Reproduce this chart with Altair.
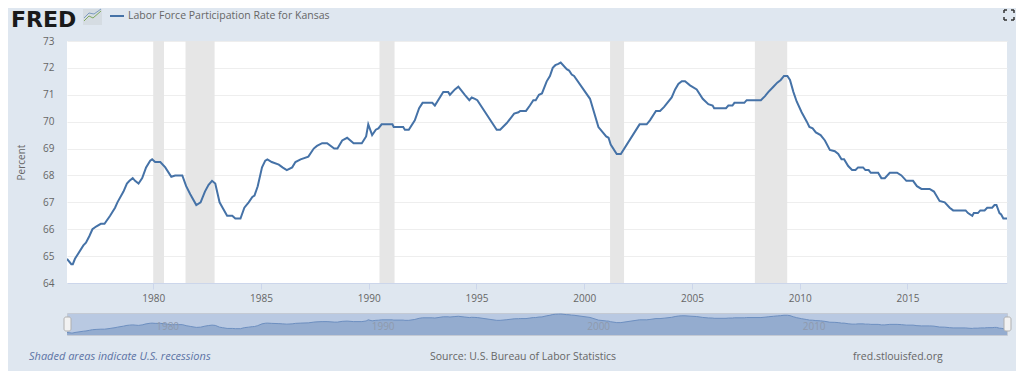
import altair as alt
import pandas as pd

years = [1976.0,1976.2,1976.27,1976.37,1976.76,1976.88,1977.04,1977.18,1977.35,1977.57,1977.74,1978.0,1978.23,1978.34,1978.62,1978.78,1978.9,1979.05,1979.16,1979.32,1979.49,1979.67,1979.86,1979.95,1980.09,1980.33,1980.56,1980.84,1981.02,1981.35,1981.53,1981.72,1982.0,1982.2,1982.4,1982.57,1982.73,1982.88,1983.08,1983.22,1983.43,1983.67,1983.81,1984.05,1984.23,1984.43,1984.6,1984.7,1984.85,1985.05,1985.2,1985.3,1985.5,1985.83,1986.0,1986.2,1986.45,1986.6,1986.84,1987.2,1987.45,1987.6,1987.84,1988.07,1988.4,1988.55,1988.77,1989.0,1989.3,1989.68,1989.88,1989.98,1990.16,1990.33,1990.45,1990.6,1991.1,1991.16,1991.6,1991.68,1991.86,1992.14,1992.34,1992.5,1992.95,1993.07,1993.46,1993.69,1993.77,1994.0,1994.16,1994.46,1994.67,1994.78,1994.93,1995.04,1995.94,1996.1,1996.41,1996.75,1996.95,1997.03,1997.3,1997.48,1997.64,1997.75,1997.9,1998.04,1998.26,1998.41,1998.54,1998.66,1998.8,1998.91,1999.19,1999.3,1999.42,1999.53,2000.27,2000.66,2001.02,2001.13,2001.23,2001.51,2001.7,2002.57,2002.9,2003.05,2003.33,2003.52,2003.71,2004.06,2004.22,2004.37,2004.53,2004.68,2004.91,2005.22,2005.5,2005.76,2005.96,2006.03,2006.58,2006.69,2006.88,2006.97,2007.43,2007.54,2008.2,2008.39,2008.54,2008.78,2008.96,2009.12,2009.27,2009.43,2009.55,2009.71,2009.86,2010.09,2010.33,2010.45,2010.6,2010.75,2010.97,2011.17,2011.4,2011.63,2011.79,2011.94,2012.06,2012.25,2012.43,2012.59,2012.71,2012.94,2013.05,2013.2,2013.3,2013.64,2013.79,2013.95,2014.18,2014.52,2014.72,2014.95,2015.26,2015.44,2015.65,2016.03,2016.23,2016.49,2016.73,2016.96,2017.12,2017.7,2017.81,2018.01,2018.08,2018.27,2018.38,2018.58,2018.7,2018.93,2019.04,2019.13,2019.27,2019.35,2019.45,2019.62]
rates = [64.9,64.7,64.7,64.9,65.4,65.5,65.75,66.0,66.1,66.2,66.2,66.5,66.8,67.0,67.4,67.7,67.8,67.9,67.8,67.7,67.9,68.3,68.55,68.6,68.5,68.5,68.3,67.95,68.0,68.0,67.6,67.3,66.9,67.0,67.4,67.65,67.8,67.7,67.0,66.8,66.5,66.5,66.4,66.4,66.8,67.0,67.2,67.25,67.6,68.3,68.55,68.6,68.5,68.4,68.3,68.2,68.3,68.5,68.6,68.7,69.0,69.1,69.2,69.2,69.0,69.0,69.3,69.4,69.2,69.2,69.45,69.9,69.5,69.7,69.75,69.9,69.9,69.8,69.8,69.7,69.7,70.05,70.5,70.7,70.7,70.6,71.1,71.1,71.0,71.2,71.3,71.0,70.8,70.9,70.85,70.8,69.7,69.7,69.95,70.3,70.35,70.4,70.4,70.6,70.8,70.8,71.0,71.05,71.5,71.7,72.0,72.1,72.15,72.2,71.95,71.9,71.75,71.7,70.85,69.8,69.45,69.4,69.15,68.8,68.8,69.9,69.9,70.05,70.4,70.4,70.55,70.9,71.2,71.4,71.5,71.5,71.35,71.2,70.85,70.65,70.6,70.5,70.5,70.6,70.6,70.7,70.7,70.8,70.8,70.95,71.1,71.3,71.45,71.55,71.7,71.7,71.55,71.1,70.75,70.35,70.0,69.8,69.75,69.6,69.5,69.3,68.95,68.9,68.8,68.6,68.6,68.35,68.2,68.2,68.3,68.3,68.2,68.2,68.1,68.1,67.9,67.9,68.1,68.1,68.0,67.8,67.8,67.6,67.5,67.5,67.4,67.05,67.0,66.8,66.7,66.7,66.6,66.5,66.6,66.6,66.7,66.7,66.8,66.8,66.9,66.9,66.6,66.55,66.4,66.4]
rec_start = [1980.0,1981.5,1990.5,2001.2,2007.92]
rec_end = [1980.5,1982.85,1991.2,2001.85,2009.42]
x_ticks = [1980,1985,1990,1995,2000,2005,2010,2015]
nav_ticks = [1980,1990,2000,2010]
y_ticks = list(range(64,74))

FONT = "Open Sans"
TXT = "#666666"
BLUE = "#4572a7"
PAGE = "#dfe7f0"

series = pd.DataFrame({"year": years, "rate": rates})
recs = pd.DataFrame({"s": rec_start, "e": rec_end})
XDOM = [1976.0, 2019.62]
xs = alt.Scale(domain=XDOM, nice=False, zero=False)

rec_layer = alt.Chart(recs).mark_rect(color="#e6e6e6").encode(
    x=alt.X("s:Q", scale=xs, title=None,
            axis=alt.Axis(values=x_ticks, format="d", grid=False, domainColor="#ccd6eb", tickColor="#ccd6eb",
                          tickSize=6, labelColor=TXT, labelFont=FONT, labelFontSize=10, labelPadding=4)),
    x2="e:Q")
line_layer = alt.Chart(series).mark_line(color=BLUE, strokeWidth=2, clip=True).encode(
    x=alt.X("year:Q", scale=xs),
    y=alt.Y("rate:Q", scale=alt.Scale(domain=[64, 73], nice=False, zero=False), title="Percent",
            axis=alt.Axis(values=y_ticks, format="d", domain=False, ticks=False, gridColor="#eeeeee", labelColor=TXT,
                          labelFont=FONT, labelFontSize=10, labelPadding=13, titleColor=TXT, titleFont=FONT,
                          titleFontSize=10, titleFontWeight="normal", titlePadding=16)))

one = pd.DataFrame({"a": [0]})
def txt(s, x, y, **kw):
    return alt.Chart(one).mark_text(text=s, align=kw.pop("align", "left"), baseline="middle", **kw).encode(
        x=alt.value(x), y=alt.value(y))
def seg(x, y, x2, y2, color, w=1):
    return alt.Chart(one).mark_rule(color=color, strokeWidth=w).encode(
        x=alt.value(x), y=alt.value(y), x2=alt.value(x2), y2=alt.value(y2))

header = [
    txt("FRED", -56, -21, font="DejaVu Sans", fontSize=22, fontWeight="bold", color="#1a1a1a"),
    alt.Chart(one).mark_rect(color="#d5dce2").encode(x=alt.value(16), x2=alt.value(35), y=alt.value(-32), y2=alt.value(-16)),
    seg(17, -20, 22, -25, "#7fa860"), seg(22, -25, 26, -23, "#7fa860"), seg(26, -23, 34, -30, "#7fa860"),
    seg(17, -23, 22, -28, "#7d9cc0"), seg(22, -28, 27, -27, "#7d9cc0"), seg(27, -27, 34, -32, "#7d9cc0"),
    seg(43, -25, 57, -25, BLUE, 2),
    txt("Labor Force Participation Rate for Kansas", 61, -25, font=FONT, fontSize=10.5, color=TXT),
]
ic = "#333333"
for (cx, cy, dx, dy) in [(937, -31, 3, 3), (947, -31, -3, 3), (937, -21, 3, -3), (947, -21, -3, -3)]:
    header += [seg(cx, cy, cx + dx, cy, ic, 1.5), seg(cx, cy, cx, cy + dy, ic, 1.5)]

main = alt.layer(rec_layer, line_layer, *header).properties(
    width=940, height=242, view=alt.ViewConfig(fill="white", stroke=None))

ny = alt.Scale(domain=[63.9, 72.6], nice=False, zero=False)
nav_area = alt.Chart(series).mark_area(color="#84a0c8", clip=True, line=alt.LineConfig(color="#6d8fc0", strokeWidth=1)).encode(
    x=alt.X("year:Q", scale=xs, axis=None), y=alt.Y("rate:Q", scale=ny, axis=None), y2=alt.datum(63.9))
nav_text = alt.Chart(pd.DataFrame({"t": nav_ticks})).mark_text(
    align="left", dx=3, font=FONT, fontSize=10, color="#8f9aad", baseline="middle").encode(
    x=alt.X("t:Q", scale=xs, axis=None), y=alt.value(14), text=alt.Text("t:Q", format="d"))
def handle(x):
    return [alt.Chart(one).mark_rect(fill="#f2f2f2", stroke="#b0b0b0", cornerRadius=2).encode(
        x=alt.value(x), x2=alt.value(x + 7), y=alt.value(4), y2=alt.value(18))]
footer = [
    txt("Shaded areas indicate U.S. recessions", -38, 44, font=FONT, fontSize=11, fontStyle="italic", color="#5c73a5"),
    txt("Source: U.S. Bureau of Labor Statistics", 363, 44, font=FONT, fontSize=10.5, color=TXT),
    txt("fred.stlouisfed.org", 786, 44, font=FONT, fontSize=10.5, color=TXT),
]
nav = alt.layer(nav_area, nav_text, *handle(-3), *handle(937), *footer).properties(
    width=940, height=22, view=alt.ViewConfig(fill="#b9c9e2", stroke="#c4cad4"))

chart = alt.vconcat(main, nav, spacing=9).properties(
    background=PAGE,
    padding={"left": 3, "top": 0, "right": 1, "bottom": 8},
)
chart.save("out.html", embed_options={"renderer": "svg", "actions": False})
